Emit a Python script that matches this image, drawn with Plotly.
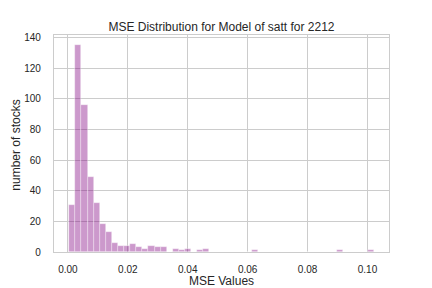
import numpy as np
import plotly.graph_objects as go

# Histogram data (50 bins)
mse_min = 0.00043
mse_max = 0.1021
n_bins = 50
counts = [31, 135, 96, 49, 32, 18, 13, 6, 4, 4,
          5, 3, 2, 4, 3, 3, 0, 2, 1, 2,
          0, 1, 2, 0, 0, 0, 0, 0, 0, 0,
          1, 0, 0, 0, 0, 0, 0, 0, 0, 0,
          0, 0, 0, 0, 1, 0, 0, 0, 0, 1]
x_ticks = [0.00, 0.02, 0.04, 0.06, 0.08, 0.10]
x_tick_labels = ["0.00", "0.02", "0.04", "0.06", "0.08", "0.10"]
y_ticks = [0, 20, 40, 60, 80, 100, 120, 140]
title = "MSE Distribution for Model of satt for 2212"
x_label = "MSE Values"
y_label = "number of stocks"

edges = np.linspace(mse_min, mse_max, n_bins + 1)
centers = (edges[:-1] + edges[1:]) / 2
width = edges[1] - edges[0]

span = mse_max - mse_min
x_range = [mse_min - 0.05 * span, mse_max + 0.05 * span]
y_range = [0, max(counts) * 1.05]

fig = go.Figure()
fig.add_trace(go.Bar(
    x=centers, y=counts, width=[width] * n_bins,
    marker=dict(color="rgba(128,0,128,0.4)",
                line=dict(color="rgba(255,255,255,0.6)", width=0.6)),
    showlegend=False,
))

font_family = "Liberation Sans, Arial, sans-serif"
dark = "#262626"
grid = "#cccccc"

fig.update_layout(
    width=432, height=288,
    margin=dict(l=54, r=43, t=35, b=36, pad=0, autoexpand=False),
    paper_bgcolor="white", plot_bgcolor="white",
    font=dict(family=font_family, color=dark, size=10),
    title=dict(text=title, x=0.5, xref="paper", y=1 - 27 / 288, yref="container",
               xanchor="center", yanchor="middle",
               font=dict(size=12, color=dark, family=font_family)),
    bargap=0,
)
fig.add_annotation(
    text=y_label, textangle=-90, xref="paper", yref="paper",
    x=(16 - 54) / 335, y=0.49, xanchor="center", yanchor="middle",
    showarrow=False, font=dict(size=12, color=dark, family=font_family),
)
fig.update_xaxes(
    range=x_range, tickvals=x_ticks, ticktext=x_tick_labels,
    showgrid=True, gridcolor=grid, gridwidth=1,
    showline=True, linecolor=grid, linewidth=1.25, mirror=True,
    zeroline=False, ticks="", ticklabelstandoff=8, automargin=False,
    tickfont=dict(size=10, color=dark),
    title=dict(text=x_label, font=dict(size=12, color=dark), standoff=2),
)
fig.update_yaxes(
    range=y_range, tickvals=y_ticks,
    showgrid=True, gridcolor=grid, gridwidth=1,
    showline=True, linecolor=grid, linewidth=1.25, mirror=True,
    zeroline=False, ticks="", ticklabelstandoff=10, automargin=False,
    tickfont=dict(size=10, color=dark),
)

fig.write_html("out.html",
               config={"displayModeBar": False},
               post_script="document.body.style.margin='0';"
                           "document.body.style.overflow='hidden';")
